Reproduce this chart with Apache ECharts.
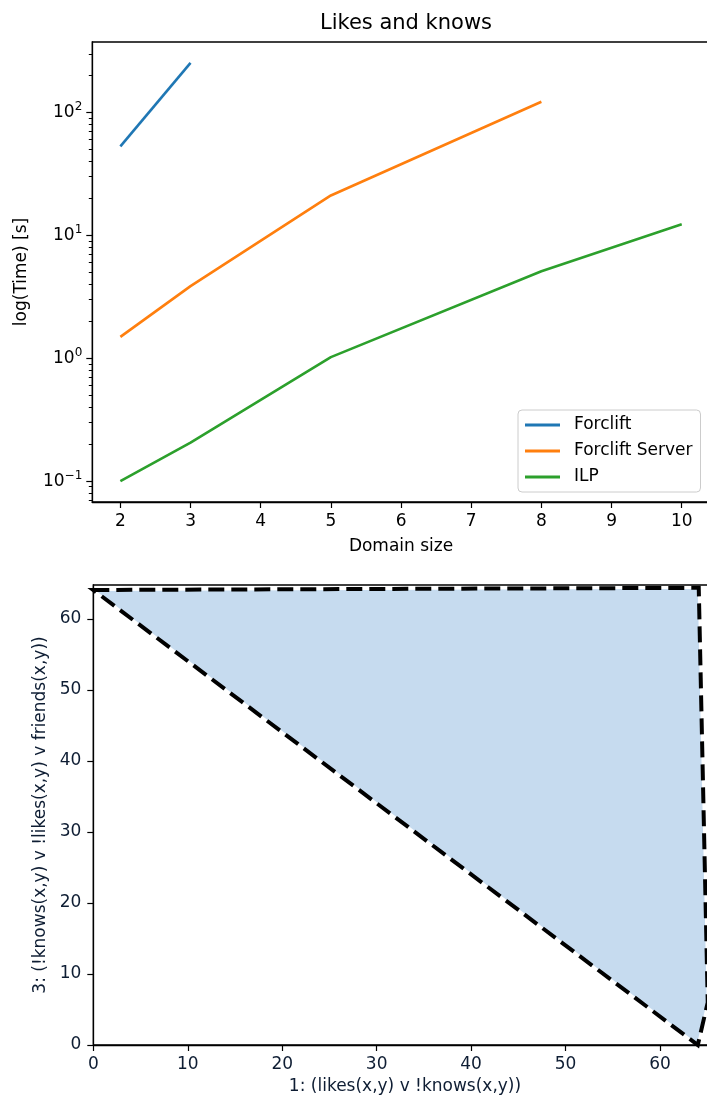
<!DOCTYPE html>
<html>
<head>
<meta charset="utf-8">
<script src="https://cdn.jsdelivr.net/npm/echarts@6/dist/echarts.min.js"></script>
<style>
html,body{margin:0;padding:0;background:#fff;overflow:hidden;width:707px;height:1097px;}
#chart{width:730px;height:1097px;}
</style>
</head>
<body>
<div id="chart"></div>
<script>
// ---- Top chart data ----
const titleText = 'Likes and knows';
const seriesNames = ['Forclift', 'Forclift Server', 'ILP'];
const forcliftX = [2, 3];
const forcliftY = [53, 253];
const serverX = [2, 3, 5, 8];
const serverY = [1.49, 3.86, 21.1, 122];
const ilpX = [2, 3, 5, 8, 10];
const ilpY = [0.1, 0.206, 1.02, 5.1, 12.3];
const xTicksTop = [2, 3, 4, 5, 6, 7, 8, 9, 10];
const yMajorTicks = [0.1, 1, 10, 100];
const yMinorTicks = [0.07, 0.08, 0.09, 0.2, 0.3, 0.4, 0.5, 0.6, 0.7, 0.8, 0.9,
                     2, 3, 4, 5, 6, 7, 8, 9, 20, 30, 40, 50, 60, 70, 80, 90, 200, 300];
const xNameTop = 'Domain size';
const yNameTop = 'log(Time) [s]';

// ---- Bottom chart data ----
const polyX = [0, 64.1, 65.05, 64];
const polyY = [64.1, 64.4, 6.0, 0];
const xTicksBottom = [0, 10, 20, 30, 40, 50, 60];
const yTicksBottom = [0, 10, 20, 30, 40, 50, 60];
const xNameBottom = '1: (likes(x,y) v !knows(x,y))';
const yNameBottom = '3: (!knows(x,y) v !likes(x,y) v friends(x,y))';

const colors = ['#1f77b4', '#ff7f0e', '#2ca02c'];
const FONT = 'DejaVu Sans';
const navy = '#0e1d33';

function zip(xs, ys) { return xs.map((x, i) => [x, ys[i]]); }

function supFmt(v) {
  const e = Math.round(Math.log10(v));
  const s = e < 0 ? '\u2212' + (-e) : String(e);
  return '{b|10}{s|' + s + '}';
}

const chart = echarts.init(document.getElementById('chart'), null, {renderer: 'canvas'});

const option = {
  backgroundColor: '#fff',
  animation: false,
  textStyle: {fontFamily: FONT},
  title: {
    text: titleText,
    left: 401, top: 8,
    textAlign: 'center',
    textStyle: {fontFamily: FONT, fontSize: 21, fontWeight: 'normal', color: '#000'}
  },
  legend: {
    orient: 'vertical',
    left: 518, top: 410,
    padding: [5, 8, 5, 7],
    itemGap: 6,
    itemWidth: 35, itemHeight: 3,
    icon: 'rect',
    backgroundColor: 'rgba(255,255,255,0.8)',
    borderColor: '#cccccc', borderWidth: 1, borderRadius: 4,
    textStyle: {fontFamily: FONT, fontSize: 17, color: '#000', lineHeight: 20, padding: [0, 0, 0, 9]},
    data: seriesNames
  },
  grid: [
    {left: 92.3, top: 42, width: 617.5, height: 460, show: true, borderColor: '#000', borderWidth: 1.3, containLabel: false},
    {left: 93.3, top: 585, width: 623.4, height: 460, show: true, borderColor: '#000', borderWidth: 1.3, containLabel: false}
  ],
  xAxis: [
    {
      type: 'value', gridIndex: 0, min: 1.6, max: 10.4,
      name: xNameTop, nameLocation: 'middle', nameGap: 36,
      nameTextStyle: {fontFamily: FONT, fontSize: 17, color: '#000'},
      axisLine: {show: true, onZero: false, lineStyle: {color: '#000', width: 1.3}},
      axisTick: {show: true, length: 6, lineStyle: {color: '#000', width: 1.2}, customValues: xTicksTop},
      axisLabel: {fontFamily: FONT, fontSize: 17, color: '#000', margin: 11, customValues: xTicksTop},
      splitLine: {show: false}
    },
    {
      type: 'value', gridIndex: 1, min: 0, max: 66,
      name: xNameBottom, nameLocation: 'middle', nameGap: 33,
      nameTextStyle: {fontFamily: FONT, fontSize: 17, color: navy},
      axisLine: {show: true, onZero: false, lineStyle: {color: '#000', width: 1.3}},
      axisTick: {show: true, length: 6, lineStyle: {color: '#000', width: 1.2}, customValues: xTicksBottom},
      axisLabel: {fontFamily: FONT, fontSize: 17, color: navy, margin: 11, customValues: xTicksBottom},
      splitLine: {show: false}
    }
  ],
  yAxis: [
    {
      type: 'log', gridIndex: 0, min: 0.0676, max: 374, logBase: 10,
      name: yNameTop, nameLocation: 'middle', nameGap: 62,
      nameTextStyle: {fontFamily: FONT, fontSize: 17, color: '#000'},
      axisLine: {show: true, lineStyle: {color: '#000', width: 1.3}},
      axisTick: {show: true, length: 6, lineStyle: {color: '#000', width: 1.2}, customValues: yMajorTicks},
      axisLabel: {
        fontFamily: FONT, fontSize: 17, color: '#000', margin: 10, customValues: yMajorTicks,
        formatter: supFmt,
        rich: {
          b: {fontFamily: FONT, fontSize: 17, color: '#000'},
          s: {fontFamily: FONT, fontSize: 12, color: '#000', padding: [0, 0, 11, 0]}
        }
      },
      splitLine: {show: false}
    },
    {
      type: 'log', gridIndex: 0, min: 0.0676, max: 374, logBase: 10,
      position: 'left', offset: 0,
      axisLine: {show: false},
      axisTick: {show: true, length: 3.5, lineStyle: {color: '#000', width: 1}, customValues: yMinorTicks},
      axisLabel: {show: false},
      splitLine: {show: false}
    },
    {
      type: 'value', gridIndex: 1, min: 0, max: 64.8,
      name: yNameBottom, nameLocation: 'middle', nameGap: 44,
      nameTextStyle: {fontFamily: FONT, fontSize: 17, color: navy},
      axisLine: {show: true, onZero: false, lineStyle: {color: '#000', width: 1.3}},
      axisTick: {show: true, length: 6, lineStyle: {color: '#000', width: 1.2}, customValues: yTicksBottom},
      axisLabel: {fontFamily: FONT, fontSize: 17, color: navy, margin: 12, customValues: yTicksBottom},
      splitLine: {show: false}
    }
  ],
  series: [
    {name: seriesNames[0], type: 'line', xAxisIndex: 0, yAxisIndex: 0, data: zip(forcliftX, forcliftY),
     showSymbol: false, symbol: 'none', color: colors[0], lineStyle: {width: 2.6, color: colors[0]}},
    {name: seriesNames[1], type: 'line', xAxisIndex: 0, yAxisIndex: 0, data: zip(serverX, serverY),
     showSymbol: false, symbol: 'none', color: colors[1], lineStyle: {width: 2.6, color: colors[1]}},
    {name: seriesNames[2], type: 'line', xAxisIndex: 0, yAxisIndex: 0, data: zip(ilpX, ilpY),
     showSymbol: false, symbol: 'none', color: colors[2], lineStyle: {width: 2.6, color: colors[2]}},
    {
      type: 'custom', xAxisIndex: 1, yAxisIndex: 2,
      data: [[polyX[0], polyY[0]]],
      renderItem: function (params, api) {
        const pts = polyX.map((x, i) => api.coord([x, polyY[i]]));
        return {
          type: 'group',
          children: [
            {type: 'polygon', shape: {points: pts},
             style: {fill: '#c6dbef', stroke: '#ffffff', lineWidth: 2}},
            {type: 'polygon', shape: {points: pts},
             style: {fill: null, stroke: '#000', lineWidth: 4, lineDash: [16, 7]}}
          ]
        };
      }
    }
  ]
};
chart.setOption(option);
</script>
</body>
</html>
